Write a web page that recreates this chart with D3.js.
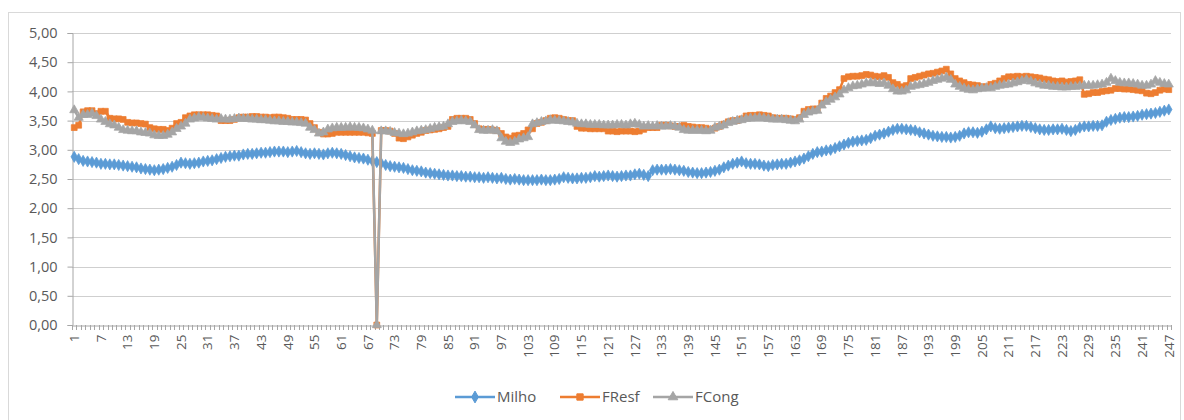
<!DOCTYPE html>
<html><head><meta charset="utf-8">
<script src="https://cdn.jsdelivr.net/npm/d3@7"></script>
<style>body{margin:0;background:#fff;}svg{display:block;font-family:"Open Sans",sans-serif;}</style>
</head><body><svg id="c" width="1184" height="420"></svg>
<script>
const milho = [
2.88,2.84,2.81,2.80,2.79,2.78,2.76,2.76,2.75,2.75,
2.74,2.73,2.72,2.71,2.70,2.68,2.67,2.66,2.65,2.66,
2.67,2.69,2.71,2.74,2.78,2.77,2.76,2.77,2.78,2.80,
2.81,2.82,2.84,2.86,2.88,2.89,2.90,2.90,2.92,2.93,
2.93,2.94,2.95,2.95,2.96,2.97,2.97,2.97,2.96,2.97,
2.98,2.96,2.94,2.93,2.94,2.93,2.92,2.94,2.95,2.94,
2.93,2.91,2.89,2.87,2.86,2.85,2.83,2.81,2.79,2.77,
2.74,2.72,2.71,2.70,2.69,2.67,2.65,2.64,2.63,2.61,
2.60,2.59,2.58,2.57,2.56,2.56,2.55,2.55,2.54,2.54,
2.53,2.53,2.52,2.53,2.52,2.51,2.52,2.50,2.49,2.50,
2.49,2.48,2.48,2.48,2.48,2.49,2.48,2.48,2.49,2.50,
2.53,2.52,2.51,2.51,2.52,2.52,2.53,2.55,2.54,2.55,
2.56,2.55,2.54,2.55,2.56,2.56,2.58,2.59,2.57,2.55,
2.65,2.66,2.66,2.66,2.67,2.66,2.65,2.64,2.62,2.61,
2.60,2.60,2.61,2.62,2.64,2.66,2.70,2.73,2.76,2.78,
2.80,2.77,2.76,2.76,2.75,2.73,2.72,2.74,2.75,2.76,
2.76,2.78,2.80,2.82,2.85,2.89,2.93,2.96,2.97,2.99,
3.00,3.03,3.06,3.09,3.12,3.14,3.15,3.16,3.17,3.20,
3.24,3.26,3.28,3.31,3.34,3.36,3.36,3.35,3.34,3.33,
3.30,3.28,3.26,3.24,3.23,3.22,3.22,3.21,3.22,3.24,
3.28,3.30,3.30,3.29,3.31,3.35,3.40,3.37,3.36,3.37,
3.38,3.39,3.40,3.41,3.41,3.39,3.37,3.35,3.34,3.34,
3.35,3.35,3.36,3.34,3.32,3.34,3.38,3.40,3.40,3.41,
3.41,3.42,3.48,3.51,3.53,3.55,3.56,3.56,3.57,3.58,
3.60,3.61,3.62,3.63,3.65,3.67,3.69];
const fresf = [
3.38,3.42,3.65,3.67,3.67,3.62,3.66,3.66,3.54,3.53,
3.53,3.52,3.47,3.46,3.46,3.45,3.44,3.38,3.36,3.35,
3.35,3.33,3.37,3.45,3.47,3.55,3.58,3.60,3.60,3.60,
3.60,3.59,3.58,3.50,3.50,3.50,3.52,3.55,3.56,3.56,
3.57,3.57,3.56,3.56,3.55,3.56,3.56,3.55,3.54,3.52,
3.52,3.52,3.51,3.45,3.38,3.30,3.27,3.27,3.28,3.30,
3.30,3.30,3.30,3.30,3.30,3.30,3.29,3.28,0.00,3.33,
3.33,3.32,3.28,3.20,3.19,3.22,3.25,3.28,3.30,3.33,
3.34,3.35,3.36,3.38,3.40,3.52,3.54,3.54,3.54,3.52,
3.45,3.36,3.35,3.35,3.34,3.33,3.28,3.22,3.20,3.24,
3.25,3.28,3.34,3.36,3.45,3.47,3.50,3.54,3.55,3.54,
3.52,3.50,3.50,3.40,3.37,3.37,3.36,3.36,3.36,3.36,
3.32,3.32,3.31,3.32,3.32,3.32,3.31,3.32,3.35,3.38,
3.38,3.38,3.42,3.42,3.41,3.40,3.40,3.42,3.40,3.39,
3.38,3.38,3.37,3.35,3.37,3.40,3.44,3.48,3.50,3.50,
3.53,3.58,3.59,3.59,3.60,3.59,3.58,3.55,3.54,3.54,
3.54,3.53,3.52,3.55,3.66,3.69,3.70,3.70,3.80,3.88,
3.92,3.98,4.03,4.22,4.25,4.26,4.26,4.27,4.29,4.28,
4.26,4.25,4.27,4.24,4.15,4.12,4.08,4.10,4.22,4.24,
4.26,4.28,4.30,4.31,4.33,4.35,4.38,4.30,4.22,4.18,
4.15,4.12,4.11,4.10,4.08,4.08,4.12,4.14,4.18,4.22,
4.25,4.25,4.26,4.25,4.26,4.25,4.24,4.23,4.21,4.20,
4.18,4.17,4.18,4.16,4.17,4.18,4.20,3.95,3.96,3.98,
3.98,4.00,4.01,4.02,4.05,4.05,4.04,4.04,4.03,4.02,
4.01,3.97,3.96,3.98,4.02,4.04,4.03];
const fcong = [
3.68,3.55,3.60,3.60,3.62,3.58,3.52,3.48,3.44,3.42,
3.38,3.34,3.33,3.32,3.32,3.30,3.29,3.28,3.25,3.24,
3.24,3.26,3.30,3.36,3.40,3.45,3.52,3.54,3.56,3.55,
3.54,3.53,3.52,3.53,3.52,3.52,3.53,3.54,3.53,3.53,
3.52,3.52,3.51,3.51,3.50,3.49,3.49,3.48,3.48,3.47,
3.47,3.46,3.45,3.38,3.34,3.28,3.30,3.35,3.37,3.38,
3.38,3.38,3.39,3.38,3.38,3.37,3.35,3.33,0.00,3.32,
3.32,3.31,3.29,3.28,3.27,3.28,3.30,3.32,3.33,3.34,
3.36,3.38,3.39,3.40,3.44,3.48,3.49,3.50,3.49,3.48,
3.42,3.34,3.33,3.33,3.34,3.32,3.20,3.14,3.12,3.14,
3.18,3.20,3.22,3.44,3.46,3.48,3.49,3.51,3.50,3.50,
3.49,3.48,3.47,3.45,3.44,3.44,3.43,3.43,3.43,3.42,
3.42,3.42,3.43,3.43,3.42,3.44,3.45,3.43,3.40,3.41,
3.40,3.41,3.40,3.40,3.41,3.40,3.38,3.34,3.33,3.33,
3.33,3.33,3.32,3.33,3.38,3.40,3.42,3.46,3.48,3.50,
3.51,3.53,3.54,3.54,3.55,3.54,3.53,3.52,3.52,3.52,
3.51,3.50,3.49,3.52,3.60,3.64,3.66,3.67,3.76,3.82,
3.86,3.90,3.95,4.02,4.06,4.09,4.10,4.12,4.14,4.15,
4.14,4.13,4.14,4.10,4.04,4.00,4.00,4.02,4.08,4.10,
4.11,4.13,4.15,4.18,4.20,4.22,4.24,4.20,4.12,4.08,
4.05,4.03,4.02,4.04,4.05,4.06,4.06,4.08,4.10,4.11,
4.12,4.14,4.16,4.18,4.20,4.17,4.14,4.12,4.10,4.10,
4.08,4.08,4.07,4.07,4.08,4.08,4.09,4.10,4.10,4.10,
4.11,4.12,4.15,4.22,4.18,4.15,4.14,4.14,4.13,4.12,
4.10,4.10,4.12,4.18,4.15,4.13,4.12];
const categories = milho.map((_, i) => String(i + 1));
const yTicks = [0, 0.5, 1, 1.5, 2, 2.5, 3, 3.5, 4, 4.5, 5];
const xTickLabels = categories.filter((c, i) => i % 6 === 0);
const seriesNames = ["Milho", "FResf", "FCong"];
const seriesColors = ["#5B9BD5", "#ED7D31", "#A5A5A5"];
const seriesData = [milho, fresf, fcong];

const svg = d3.select("#c");
const L = 72, R = 1171, T = 33, B = 325;

svg.append("rect").attr("x", 8.5).attr("y", 12.5).attr("width", 1172).attr("height", 430)
  .attr("fill", "#fff").attr("stroke", "#d9d9d9");

const x = d3.scaleBand().domain(categories).range([L, R]).padding(0);
const y = d3.scaleLinear().domain([0, 5]).range([B, T]);
const fmt = v => d3.format(".2f")(v).replace(".", ",");

svg.append("g").selectAll("line").data(yTicks.filter(v => v > 0)).join("line")
  .attr("x1", L).attr("x2", R).attr("y1", d => Math.round(y(d)) + 0.5).attr("y2", d => Math.round(y(d)) + 0.5)
  .attr("stroke", "#cfcfcf").attr("stroke-width", 1);

const yAxis = d3.axisLeft(y).tickValues(yTicks).tickFormat(fmt).tickSize(5).tickPadding(10);
const gy = svg.append("g").attr("transform", `translate(${L + 0.5},0)`).call(yAxis);
gy.select(".domain").attr("stroke", "#a6a6a6");
gy.selectAll(".tick line").attr("stroke", "#a6a6a6");
gy.selectAll(".tick text").attr("fill", "#595959").style("font-size", "14.5px").style("font-family", "'Open Sans',sans-serif");

const xAxis = d3.axisBottom(x).tickValues(xTickLabels).tickSize(0).tickPadding(9);
const gx = svg.append("g").attr("transform", `translate(0,${B + 0.5})`).call(xAxis);
gx.select(".domain").attr("stroke", "#a6a6a6");
gx.selectAll(".tick text").attr("fill", "#595959").style("font-size", "13.5px")
  .style("font-family", "'Open Sans',sans-serif")
  .attr("transform", "rotate(-90)").attr("text-anchor", "end").attr("dy", "0.35em")
  .attr("x", -9).attr("y", 0);
svg.append("g").selectAll("line").data(categories.concat(["end"])).join("line")
  .attr("x1", (d, i) => Math.round(L + i * x.step()) + 0.5)
  .attr("x2", (d, i) => Math.round(L + i * x.step()) + 0.5)
  .attr("y1", B).attr("y2", B + 5).attr("stroke", "#a6a6a6");

const cx = i => x(categories[i]) + x.bandwidth() / 2;
const symbols = [d3.symbolDiamond, d3.symbolSquare, d3.symbolTriangle];
const sizes = [36, 34, 36];

seriesData.forEach((data, s) => {
  const g = svg.append("g");
  const line = d3.line().x((d, i) => cx(i)).y(d => y(d));
  g.append("path").datum(data).attr("d", line).attr("fill", "none")
    .attr("stroke", seriesColors[s]).attr("stroke-width", 2.5).attr("stroke-linejoin", "round");
  const sym = d3.symbol().type(symbols[s]).size(sizes[s]);
  g.selectAll("path.m").data(data).join("path").attr("class", "m")
    .attr("d", sym).attr("transform", (d, i) => `translate(${cx(i)},${y(d)})`)
    .attr("fill", seriesColors[s]).attr("stroke", seriesColors[s]).attr("stroke-width", 0.75);
});

const legX = [455, 560, 653];
const legY = 397;
seriesNames.forEach((n, s) => {
  const g = svg.append("g").attr("transform", `translate(${legX[s]},${legY})`);
  g.append("line").attr("x1", 0).attr("x2", 40).attr("y1", 0).attr("y2", 0)
    .attr("stroke", seriesColors[s]).attr("stroke-width", 2.5);
  g.append("path").attr("d", d3.symbol().type(symbols[s]).size(40)).attr("transform", "translate(20,0)")
    .attr("fill", seriesColors[s]).attr("stroke", seriesColors[s]);
  g.append("text").attr("x", 42).attr("y", 0).attr("dy", "0.35em").text(n)
    .attr("fill", "#595959").style("font-size", "15px");
});
</script></body></html>
